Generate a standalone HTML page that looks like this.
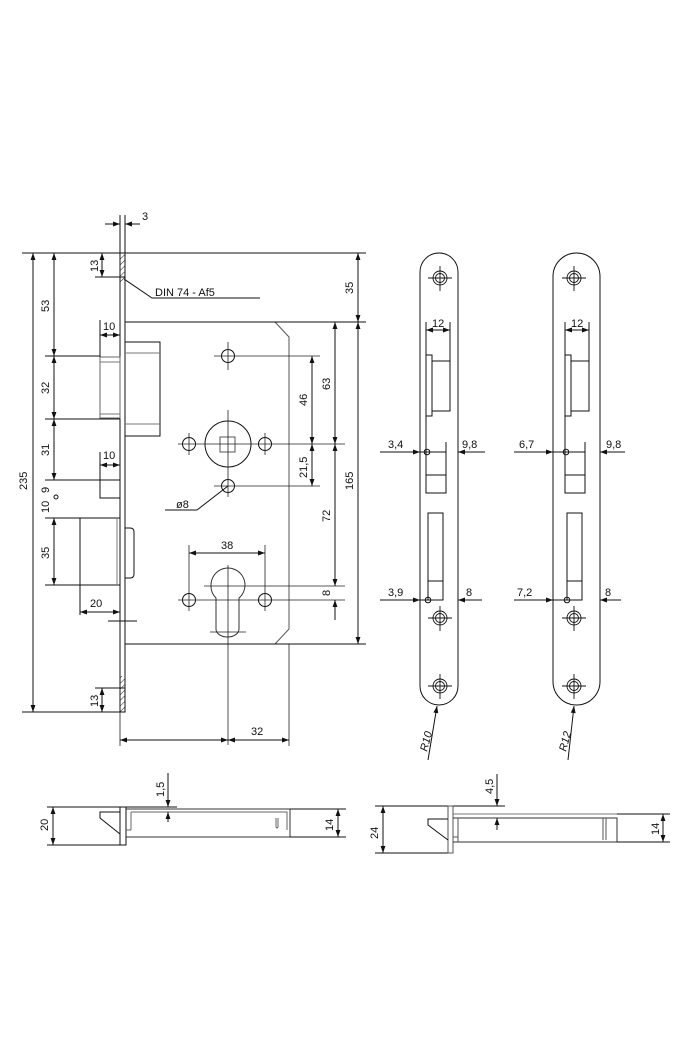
<!DOCTYPE html>
<html><head><meta charset="utf-8"><style>
html,body{margin:0;padding:0;background:#fff}
svg{display:block}
text{font-family:"Liberation Sans",sans-serif;font-size:11px;fill:#111}
</style></head><body>
<svg width="689" height="1062" viewBox="0 0 689 1062" xmlns="http://www.w3.org/2000/svg">
<defs>
<marker id="a" viewBox="0 0 10 10" refX="10" refY="5" markerWidth="9" markerHeight="7" orient="auto-start-reverse" markerUnits="userSpaceOnUse"><path d="M0,1.5 L10,5 L0,8.5 z" fill="#111"/></marker>
<pattern id="h" width="4" height="4" patternUnits="userSpaceOnUse" patternTransform="rotate(45)"><line x1="0" y1="0" x2="0" y2="4" stroke="#222" stroke-width="1"/></pattern>
</defs>
<g stroke="#111" stroke-width="1" fill="none">
<rect x="120" y="253" width="5" height="459" fill="#fff"/>
<rect x="120" y="253" width="5" height="30" fill="url(#h)" stroke="none"/>
<rect x="120" y="676" width="5" height="36" fill="url(#h)" stroke="none"/>
<path d="M125,322 H275 L289,337 V629 L275,644 H125" stroke="#555"/>
<line x1="125" y1="322" x2="366" y2="322"/>
<line x1="125" y1="644" x2="366" y2="644"/>
<line x1="22" y1="253" x2="366" y2="253"/>
<line x1="22" y1="712" x2="125" y2="712"/>
<rect x="125" y="342" width="35" height="94"/>
<line x1="125" y1="353" x2="160" y2="353" stroke="#777"/>
<line x1="125" y1="424" x2="160" y2="424" stroke="#777"/>
<rect x="100" y="357" width="20" height="61" stroke="#666"/>
<line x1="100" y1="362" x2="120" y2="362" stroke="#777"/>
<line x1="100" y1="414" x2="120" y2="414" stroke="#777"/>
<rect x="100" y="480" width="20" height="18"/>
<rect x="80" y="518" width="40" height="67"/>
<line x1="117" y1="518" x2="117" y2="585" stroke="#777"/>
<path d="M125,528 H130 Q134,528 134,532 V574 Q134,578 130,578 H125"/>
<circle cx="228" cy="356" r="6.5"/>
<circle cx="228" cy="444" r="23"/>
<rect x="220" y="437" width="15" height="15" stroke="#555"/>
<circle cx="189" cy="444" r="6.5"/><circle cx="265" cy="444" r="6.5"/>
<circle cx="228" cy="486" r="6.5"/>
<path d="M211,585 A17,17 0 1 1 239,598 V629 A11.5,8 0 0 1 216,629 V598 A17,17 0 0 1 211,585 Z" stroke="#333"/>
<circle cx="189" cy="600" r="6.5"/><circle cx="265" cy="600" r="6.5"/>
<g stroke="#222" stroke-width="0.8">
<line x1="228" y1="342" x2="228" y2="370"/><line x1="214" y1="356" x2="320" y2="356"/>
<line x1="228" y1="410" x2="228" y2="497"/><line x1="178" y1="444" x2="345" y2="444"/>
<line x1="189" y1="433" x2="189" y2="455"/><line x1="265" y1="433" x2="265" y2="455"/>
<line x1="214" y1="486" x2="320" y2="486"/>
<line x1="178" y1="600" x2="345" y2="600"/><line x1="204" y1="586" x2="345" y2="586"/>
<line x1="228" y1="565" x2="228" y2="745"/><line x1="210" y1="632" x2="246" y2="632"/>
<line x1="189" y1="545" x2="189" y2="611"/><line x1="265" y1="545" x2="265" y2="611"/>
<line x1="289" y1="644" x2="289" y2="746"/>
<line x1="120" y1="712" x2="120" y2="746"/>
</g>
<line x1="45" y1="356" x2="100" y2="356"/>
<line x1="45" y1="419" x2="120" y2="419"/>
<line x1="45" y1="480" x2="100" y2="480"/>
<line x1="45" y1="518" x2="80" y2="518"/>
<line x1="45" y1="585" x2="100" y2="585"/>
<line x1="80" y1="585" x2="80" y2="615"/>
<line x1="108" y1="621" x2="137" y2="621"/>
<line x1="100" y1="320" x2="100" y2="357"/>
<line x1="100" y1="452" x2="100" y2="480"/>
<line x1="95" y1="277" x2="125" y2="277"/>
<line x1="95" y1="688" x2="125" y2="688"/>
<line x1="120" y1="215" x2="120" y2="253"/><line x1="125" y1="215" x2="125" y2="253"/>
<line x1="33" y1="253" x2="33" y2="712" marker-start="url(#a)" marker-end="url(#a)"/>
<line x1="54" y1="253" x2="54" y2="356" marker-start="url(#a)" marker-end="url(#a)"/>
<line x1="54" y1="356" x2="54" y2="419" marker-start="url(#a)" marker-end="url(#a)"/>
<line x1="54" y1="419" x2="54" y2="480" marker-start="url(#a)" marker-end="url(#a)"/>
<line x1="54" y1="518" x2="54" y2="585" marker-start="url(#a)" marker-end="url(#a)"/>
<line x1="102" y1="253" x2="102" y2="277" marker-start="url(#a)" marker-end="url(#a)"/>
<line x1="102" y1="688" x2="102" y2="712" marker-start="url(#a)" marker-end="url(#a)"/>
<line x1="100" y1="335" x2="120" y2="335" marker-start="url(#a)" marker-end="url(#a)"/>
<line x1="100" y1="465" x2="120" y2="465" marker-start="url(#a)" marker-end="url(#a)"/>
<line x1="80" y1="612" x2="120" y2="612" marker-start="url(#a)" marker-end="url(#a)"/>
<line x1="105" y1="224" x2="120" y2="224" marker-end="url(#a)"/>
<line x1="140" y1="224" x2="125" y2="224" marker-end="url(#a)"/>
<polyline points="124,279 152,298 260,298"/>
<polyline points="228,486 197,510 165,510"/>
<circle cx="56" cy="497" r="2"/>
<line x1="358" y1="253" x2="358" y2="322" marker-start="url(#a)" marker-end="url(#a)"/>
<line x1="358" y1="322" x2="358" y2="644" marker-start="url(#a)" marker-end="url(#a)"/>
<line x1="335" y1="322" x2="335" y2="444" marker-start="url(#a)" marker-end="url(#a)"/>
<line x1="312" y1="356" x2="312" y2="444" marker-start="url(#a)" marker-end="url(#a)"/>
<line x1="312" y1="444" x2="312" y2="486" marker-start="url(#a)" marker-end="url(#a)"/>
<line x1="335" y1="444" x2="335" y2="586" marker-start="url(#a)" marker-end="url(#a)"/>
<line x1="335" y1="620" x2="335" y2="600" marker-end="url(#a)"/>
<line x1="189" y1="553" x2="265" y2="553" marker-start="url(#a)" marker-end="url(#a)"/>
<line x1="120" y1="740" x2="228" y2="740" marker-start="url(#a)" marker-end="url(#a)"/>
<line x1="228" y1="740" x2="289" y2="740" marker-start="url(#a)" marker-end="url(#a)"/>

<rect x="420" y="253" width="38" height="452" rx="19" ry="19"/>
<rect x="553" y="253" width="47" height="452" rx="23.5" ry="23.5"/>
<g>
<rect x="426" y="355" width="6" height="61"/>
<rect x="432" y="361" width="18" height="50"/>
<line x1="426" y1="416" x2="426" y2="493"/>
<line x1="426" y1="322" x2="426" y2="355"/><line x1="450" y1="322" x2="450" y2="361"/>
<line x1="426" y1="330" x2="450" y2="330" marker-start="url(#a)" marker-end="url(#a)"/>
<line x1="446" y1="442" x2="446" y2="493"/>
<rect x="426" y="475" width="20" height="18"/>
<rect x="428" y="513" width="15" height="87"/>
<line x1="428" y1="581" x2="443" y2="581"/>
<circle cx="427" cy="452" r="2.8"/>
<circle cx="428" cy="600" r="2.8"/>
</g>
<g transform="translate(139,0)">
<rect x="426" y="355" width="6" height="61"/>
<rect x="432" y="361" width="18" height="50"/>
<line x1="426" y1="416" x2="426" y2="493"/>
<line x1="426" y1="322" x2="426" y2="355"/><line x1="450" y1="322" x2="450" y2="361"/>
<line x1="426" y1="330" x2="450" y2="330" marker-start="url(#a)" marker-end="url(#a)"/>
<line x1="446" y1="442" x2="446" y2="493"/>
<rect x="426" y="475" width="20" height="18"/>
<rect x="428" y="513" width="15" height="87"/>
<line x1="428" y1="581" x2="443" y2="581"/>
<circle cx="427" cy="452" r="2.8"/>
<circle cx="428" cy="600" r="2.8"/>
</g>
<line x1="380" y1="452" x2="420" y2="452" marker-end="url(#a)"/><line x1="420" y1="452" x2="446" y2="452"/>
<line x1="485" y1="452" x2="458" y2="452" marker-end="url(#a)"/>
<line x1="380" y1="600" x2="420" y2="600" marker-end="url(#a)"/><line x1="420" y1="600" x2="443" y2="600"/>
<line x1="482" y1="600" x2="458" y2="600" marker-end="url(#a)"/>
<line x1="514" y1="452" x2="553" y2="452" marker-end="url(#a)"/><line x1="553" y1="452" x2="585" y2="452"/>
<line x1="625" y1="452" x2="600" y2="452" marker-end="url(#a)"/>
<line x1="514" y1="600" x2="553" y2="600" marker-end="url(#a)"/><line x1="553" y1="600" x2="582" y2="600"/>
<line x1="621" y1="600" x2="600" y2="600" marker-end="url(#a)"/>
<g stroke-width="0.9">
<circle cx="440" cy="278" r="7"/><circle cx="440" cy="278" r="4.5"/>
<circle cx="440" cy="618" r="7"/><circle cx="440" cy="618" r="4.5"/>
<circle cx="440" cy="686" r="7"/><circle cx="440" cy="686" r="4.5"/>
<circle cx="574" cy="278" r="7"/><circle cx="574" cy="278" r="4.5"/>
<circle cx="574" cy="618" r="7"/><circle cx="574" cy="618" r="4.5"/>
<circle cx="574" cy="686" r="7"/><circle cx="574" cy="686" r="4.5"/>
<path d="M428,278H452M440,266V291M428,618H452M440,606V631M428,686H452M440,674V699"/>
<path d="M562,278H586M574,266V291M562,618H586M574,606V631M562,686H586M574,674V699"/>
</g>
<line x1="428" y1="760" x2="437" y2="706" marker-end="url(#a)"/>
<line x1="568" y1="760" x2="574" y2="706" marker-end="url(#a)"/>

<line x1="47" y1="807" x2="177" y2="807"/>
<line x1="47" y1="845" x2="126" y2="845"/>
<rect x="120" y="807" width="6" height="38"/>
<path d="M126,809 H290 V837 H126" stroke="#333"/>
<path d="M131,812 H287 V830 M131,812 V830" stroke="#666"/>
<path d="M126,830 H131" stroke="#666"/>
<path d="M276,818 V827 Q277,829 278,827 V818" stroke="#666"/>
<path d="M120,812 H100 V818 L120,834"/>
<line x1="290" y1="809" x2="346" y2="809"/><line x1="290" y1="837" x2="346" y2="837"/>
<line x1="338" y1="809" x2="338" y2="837" marker-start="url(#a)" marker-end="url(#a)"/>
<line x1="53" y1="807" x2="53" y2="845" marker-start="url(#a)" marker-end="url(#a)"/>
<line x1="168" y1="773" x2="168" y2="807" marker-end="url(#a)"/>
<line x1="168" y1="822" x2="168" y2="812" marker-end="url(#a)"/>

<line x1="375" y1="806" x2="505" y2="806"/>
<line x1="375" y1="853" x2="453" y2="853"/>
<rect x="448" y="806" width="5" height="47" stroke="#555"/>
<line x1="453" y1="814" x2="617" y2="814" stroke="#777"/>
<path d="M453,818 H617 V842 H453" stroke="#333"/>
<path d="M458,818 V842 M453,837 H458" stroke="#555"/>
<path d="M603,818 V840 M606,818 V840" stroke="#555"/>
<path d="M448,819 H428 V825 L448,840"/>
<line x1="617" y1="814" x2="670" y2="814"/><line x1="617" y1="842" x2="670" y2="842"/>
<line x1="663" y1="814" x2="663" y2="842" marker-start="url(#a)" marker-end="url(#a)"/>
<line x1="383" y1="806" x2="383" y2="853" marker-start="url(#a)" marker-end="url(#a)"/>
<line x1="497" y1="774" x2="497" y2="806" marker-end="url(#a)"/>
<line x1="497" y1="830" x2="497" y2="818" marker-end="url(#a)"/>
</g>

<g>
<text x="142" y="220">3</text>
<text x="155" y="296">DIN 74 - Af5</text>
<text x="176" y="508">ø8</text>
<text x="221" y="549">38</text>
<text x="251" y="735">32</text>
<text x="103" y="330">10</text>
<text x="103" y="459">10</text>
<text x="90" y="607">20</text>
<text x="432" y="327">12</text>
<text x="571" y="327">12</text>
<text x="388" y="448">3,4</text>
<text x="462" y="448">9,8</text>
<text x="388" y="596">3,9</text>
<text x="466" y="596">8</text>
<text x="519" y="448">6,7</text>
<text x="606" y="448">9,8</text>
<text x="517" y="596">7,2</text>
<text x="605" y="596">8</text>
<g transform="rotate(-90)">
<text x="-490" y="27">235</text>
<text x="-312" y="49">53</text>
<text x="-394" y="49">32</text>
<text x="-456" y="49">31</text>
<text x="-559" y="49">35</text>
<text x="-272" y="98">13</text>
<text x="-707" y="98">13</text>
<text x="-513" y="49">10</text>
<text x="-493" y="49">9</text>
<text x="-294" y="353">35</text>
<text x="-490" y="353">165</text>
<text x="-390" y="330">63</text>
<text x="-522" y="330">72</text>
<text x="-596" y="330">8</text>
<text x="-406" y="307">46</text>
<text x="-478" y="307">21,5</text>
<text x="-831" y="48">20</text>
<text x="-831" y="333">14</text>
<text x="-797" y="164">1,5</text>
<text x="-839" y="378">24</text>
<text x="-835" y="659">14</text>
<text x="-794" y="493">4,5</text>
</g>
<text transform="translate(427,752) rotate(-75)" font-style="italic">R10</text>
<text transform="translate(566,752) rotate(-75)" font-style="italic">R12</text>
</g>
</svg>
</body></html>
